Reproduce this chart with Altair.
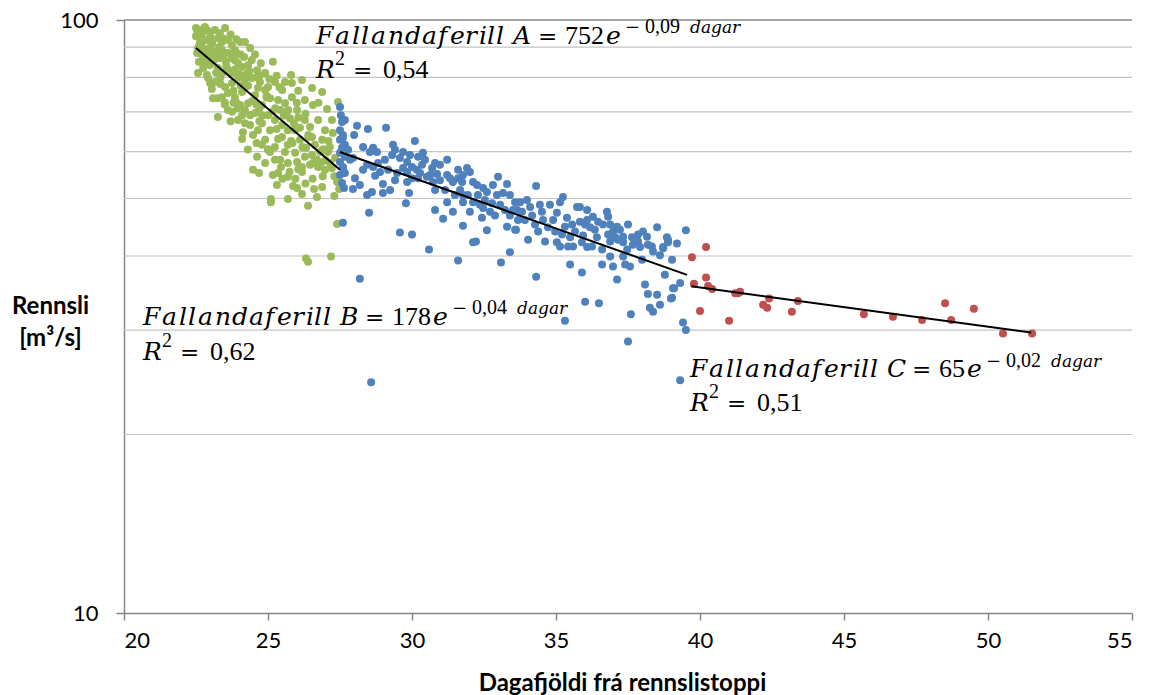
import math

import altair as alt
import pandas as pd

# ---------------------------------------------------------------------------
# Observations: days since flow peak vs. discharge (m3/s), one list per phase
# ---------------------------------------------------------------------------
green_days = [
    22.50, 22.64, 22.81, 22.99, 23.16, 23.33, 23.51, 23.26, 22.50, 22.64,
    22.85, 23.06, 23.40, 23.61, 23.75, 24.03, 24.20, 22.57, 22.81, 22.99,
    23.19, 23.40, 23.61, 23.85, 24.38, 22.54, 22.74, 22.92, 23.13, 23.33,
    23.54, 23.75, 23.96, 24.17, 24.31, 22.99, 23.26, 22.81, 23.47, 23.75,
    24.10, 24.44, 24.62, 24.90, 25.17, 22.57, 22.92, 23.16, 22.99, 23.51,
    23.75, 23.96, 24.20, 24.44, 24.72, 25.00, 25.24, 25.59, 25.83, 26.18,
    25.49, 26.53, 26.88, 23.09, 23.40, 23.61, 23.85, 24.10, 24.31, 24.55,
    24.79, 25.07, 25.35, 25.59, 25.83, 26.01, 26.28, 26.56, 27.43, 23.26,
    23.61, 23.96, 24.13, 24.38, 24.55, 24.48, 24.79, 25.00, 25.24, 25.07,
    25.49, 25.76, 25.94, 26.28, 26.53, 26.74, 26.98, 27.22, 27.15, 25.49,
    25.24, 25.69, 26.11, 26.32, 24.79, 24.62, 24.90, 25.07, 25.24, 25.59,
    25.69, 25.94, 26.18, 26.28, 26.53, 26.70, 26.74, 27.08, 27.15, 26.98,
    27.22, 27.33, 24.48, 24.69, 25.17, 25.35, 25.69, 26.01, 26.05, 26.18,
    26.56, 25.31, 25.87, 26.01, 26.18, 26.60, 26.88, 26.70, 27.40, 27.47,
    25.10, 25.10, 25.69, 26.39, 27.40, 26.32, 26.39, 27.19, 24.03, 24.20,
    24.65, 24.90, 24.38, 24.65, 24.90, 25.42, 25.69, 26.11, 26.46, 26.63,
    26.88, 26.81, 26.46, 25.42, 22.88, 23.26, 23.75, 24.10, 22.70, 23.00,
    23.45, 23.90, 24.55, 24.75, 25.30, 25.80, 26.05, 26.75, 27.05, 26.30,
    25.55, 24.80, 24.20, 23.70, 26.90, 27.30, 25.95, 25.45, 26.55, 27.10,
    22.62, 22.95, 23.20, 23.55, 23.85, 24.25, 24.60, 24.05, 23.35, 23.05,
    23.80, 24.45, 24.95, 25.15, 25.65, 26.05, 26.40, 26.95, 27.25, 25.85,
    24.30, 23.50, 22.75, 23.95, 24.70, 25.35, 26.20, 26.85, 25.00, 25.75,
    22.55, 22.90, 23.70, 22.70, 23.30, 23.90, 22.60, 23.00, 23.45, 23.85,
    24.05, 23.20, 23.60, 24.00, 24.35, 23.35, 23.80, 24.30, 24.70, 25.05,
    25.40, 23.50, 23.90, 24.60, 24.95, 25.25, 25.70, 26.00, 24.10, 24.70,
    25.30, 25.90, 26.40, 24.30, 25.00, 25.80, 26.20, 26.90, 25.50, 26.30,
    27.00, 27.30, 24.60,
]
green_flow = [
    96.9, 96.2, 97.3, 95.4, 96.2, 95.0, 96.9, 93.2, 93.9, 91.8,
    92.5, 91.4, 91.8, 92.5, 90.7, 91.8, 91.8, 89.7, 89.0, 90.0,
    88.3, 89.0, 88.0, 89.0, 89.7, 88.0, 86.6, 87.3, 85.6, 86.3,
    85.0, 86.3, 84.6, 86.6, 84.0, 84.0, 83.0, 84.6, 81.7, 81.4,
    83.3, 85.6, 82.3, 81.4, 85.0, 81.4, 79.8, 78.6, 78.3, 77.1,
    78.3, 79.8, 79.2, 79.8, 78.6, 77.1, 78.6, 78.6, 78.3, 79.2,
    76.2, 76.8, 75.6, 73.8, 74.1, 75.3, 74.1, 75.6, 72.4, 74.7,
    71.9, 73.8, 73.3, 72.4, 74.1, 70.5, 73.3, 71.9, 72.7, 68.6,
    70.5, 67.8, 64.7, 69.1, 69.7, 64.0, 67.0, 69.1, 67.8, 65.2,
    66.5, 68.3, 65.2, 67.8, 63.5, 67.8, 65.2, 67.8, 61.1, 63.5,
    61.1, 61.6, 62.8, 60.9, 61.6, 58.8, 57.4, 59.9, 58.1, 59.9,
    57.4, 59.7, 56.5, 58.8, 59.2, 58.1, 56.5, 59.9, 57.4, 55.9,
    56.3, 58.5, 55.9, 55.2, 54.8, 55.2, 54.4, 57.6, 56.0, 55.4,
    57.4, 52.7, 52.5, 52.1, 50.9, 51.9, 52.3, 50.3, 53.3, 51.9,
    49.9, 49.3, 49.9, 48.6, 45.3, 39.6, 39.1, 39.9, 71.9, 70.5,
    76.8, 76.2, 66.5, 65.2, 62.8, 70.5, 65.2, 65.8, 66.0, 61.6,
    62.8, 59.9, 57.0, 58.1, 80.8, 73.8, 70.0, 63.0, 94.5, 93.5,
    93.0, 88.0, 87.5, 84.5, 80.5, 80.8, 76.0, 72.5, 70.8, 69.5,
    69.0, 69.0, 67.0, 67.5, 54.5, 50.5, 54.0, 56.5, 54.0, 62.5,
    91.0, 88.5, 87.0, 83.5, 82.5, 81.0, 80.0, 77.5, 80.0, 76.5,
    72.5, 73.0, 74.5, 70.0, 70.0, 68.5, 64.0, 60.5, 64.5, 62.0,
    77.5, 72.0, 83.0, 71.0, 71.0, 63.0, 61.0, 57.5, 60.5, 55.5,
    95.5, 96.0, 94.5, 90.5, 90.0, 92.8, 85.0, 86.0, 87.0, 85.5,
    87.5, 81.5, 82.5, 81.0, 82.0, 78.0, 76.0, 77.5, 80.5, 79.5,
    77.0, 72.5, 72.5, 72.0, 74.0, 71.0, 70.5, 72.5, 69.0, 67.5,
    65.5, 67.0, 63.5, 60.5, 60.5, 62.5, 61.0, 60.5, 54.0, 53.0,
    58.0, 54.5, 62.0,
]

blue_days = [
    27.50, 27.53, 27.57, 27.50, 27.60, 27.50, 27.57, 27.50, 27.67, 27.50,
    27.60, 27.50, 27.57, 27.64, 27.60, 27.67, 28.09, 28.47, 29.10, 27.99,
    27.60, 27.67, 28.30, 28.65, 28.78, 28.54, 30.10, 29.34, 29.41, 29.69,
    29.93, 29.31, 29.58, 29.83, 30.21, 30.38, 30.35, 30.00, 29.69, 30.80,
    30.97, 31.22, 27.85, 27.60, 27.95, 28.44, 28.65, 28.89, 28.72, 29.17,
    29.48, 29.83, 30.17, 30.28, 27.67, 28.02, 27.95, 28.19, 28.44, 28.61,
    28.99, 28.99, 29.24, 29.83, 29.90, 29.79, 30.21, 30.52, 30.63, 30.87,
    30.73, 30.80, 31.22, 31.32, 31.42, 31.60, 31.74, 31.91, 32.01, 32.12,
    32.26, 32.47, 32.60, 32.81, 32.99, 33.30, 32.95, 33.16, 33.40, 33.58,
    33.65, 31.22, 31.42, 31.77, 31.77, 32.12, 32.36, 32.47, 32.71, 32.01,
    30.80, 31.08, 31.77, 32.43, 32.60, 33.30, 33.61, 28.51, 29.58, 30.00,
    30.59, 31.60, 32.12, 32.22, 33.09, 33.40, 28.19, 28.58, 34.31, 33.75,
    33.99, 34.10, 33.51, 33.68, 33.58, 34.03, 34.51, 34.79, 35.03, 35.24,
    35.14, 34.90, 34.55, 34.38, 34.62, 35.03, 35.14, 35.49, 35.42, 35.59,
    35.31, 35.56, 35.73, 35.83, 36.08, 35.83, 36.01, 36.18, 36.08, 36.28,
    36.77, 36.81, 36.63, 36.88, 37.12, 37.22, 36.98, 37.50, 36.81, 35.90,
    36.08, 36.25, 36.42, 36.60, 36.88, 37.15, 37.33, 37.33, 37.47, 37.33,
    37.67, 37.85, 38.02, 38.16, 37.85, 38.33, 38.51, 38.37, 38.89, 38.72,
    39.20, 39.51, 36.88, 36.60, 36.98, 37.40, 37.57, 37.99, 35.49, 35.90,
    34.31, 35.31, 36.01, 36.49, 37.12, 37.50, 38.09, 38.19, 38.51, 39.03,
    38.78, 39.06, 39.31, 39.03, 38.61, 38.26, 38.37, 39.41, 39.51, 37.60,
    38.85, 38.89, 38.72, 38.99, 39.10, 39.31, 30.97, 31.15, 31.49, 31.67,
    31.94, 32.29, 32.53, 32.78, 33.06, 33.23, 32.88, 33.40, 33.82, 33.92,
    34.17, 34.27, 34.44, 34.72, 34.97, 35.21, 35.38, 35.66, 35.94, 36.35,
    36.46, 37.05, 37.64, 37.92, 38.19, 38.61, 31.60, 31.77, 30.45, 30.70,
    30.00, 29.41, 29.06, 28.82, 28.30, 27.78,
]
blue_flow = [
    71.3, 69.1, 67.3, 65.2, 64.0, 62.8, 60.9, 59.7, 58.8, 57.6,
    56.3, 54.8, 53.1, 52.1, 45.5, 67.8, 66.3, 65.5, 65.8, 64.0,
    63.3, 61.6, 61.1, 60.9, 59.9, 59.9, 62.5, 61.6, 60.4, 59.9,
    59.2, 59.2, 58.5, 57.6, 58.8, 59.7, 57.0, 56.5, 56.3, 57.4,
    57.0, 58.1, 58.1, 56.5, 58.5, 57.0, 56.5, 55.4, 54.6, 55.9,
    55.2, 55.4, 55.9, 55.2, 55.2, 54.1, 51.9, 52.7, 50.7, 51.3,
    52.9, 51.1, 51.7, 53.3, 51.1, 49.1, 54.1, 54.4, 54.8, 55.0,
    53.3, 51.7, 54.8, 54.1, 53.3, 54.1, 53.3, 56.3, 55.4, 53.3,
    52.7, 52.1, 51.3, 52.7, 54.4, 52.9, 50.7, 51.1, 50.7, 49.3,
    47.8, 49.3, 47.5, 49.3, 50.7, 49.3, 48.8, 48.2, 47.5, 47.5,
    47.8, 46.2, 45.0, 46.4, 44.2, 44.8, 44.3, 47.3, 43.8, 43.5,
    41.0, 39.3, 42.2, 42.3, 39.0, 40.6, 36.6, 24.5, 52.5, 49.3,
    49.7, 48.4, 47.8, 46.0, 44.3, 42.6, 47.5, 48.8, 47.3, 50.3,
    49.3, 46.0, 46.0, 44.0, 42.3, 42.2, 41.5, 43.0, 41.5, 41.5,
    44.8, 45.2, 48.4, 48.4, 47.8, 45.7, 45.2, 44.7, 46.0, 46.6,
    47.5, 46.6, 45.2, 45.2, 44.8, 44.3, 44.0, 45.2, 43.5, 42.2,
    41.4, 41.5, 43.0, 41.0, 42.3, 42.6, 43.1, 42.2, 41.0, 39.9,
    41.8, 43.5, 44.0, 43.1, 42.3, 41.5, 44.7, 40.7, 42.6, 41.2,
    42.0, 44.2, 39.9, 38.7, 38.4, 38.7, 38.4, 39.4, 38.7, 37.5,
    36.9, 31.1, 33.5, 33.3, 36.5, 28.7, 35.8, 34.5, 34.4, 39.4,
    37.2, 35.3, 36.0, 34.0, 33.1, 32.7, 32.2, 30.9, 30.0, 31.9,
    43.0, 42.2, 41.4, 33.9, 35.3, 24.7, 53.7, 51.7, 50.7, 51.7,
    50.7, 50.7, 49.7, 49.1, 48.8, 47.8, 46.8, 46.8, 47.5, 46.0,
    46.8, 45.2, 48.8, 44.7, 44.0, 43.5, 46.4, 44.0, 43.3, 44.3,
    45.7, 43.0, 43.0, 41.4, 41.8, 40.1, 55.9, 54.8, 58.1, 56.3,
    54.1, 53.7, 58.1, 57.4, 55.9, 60.4,
]

red_days = [
    39.72, 40.21, 39.79, 40.21, 40.28, 40.42, 40.00, 41.01, 41.22, 41.39,
    41.32, 42.19, 42.33, 42.40, 43.19, 43.40, 45.69, 46.70, 47.71, 48.51,
    48.72, 49.51, 50.52, 51.53,
]
red_flow = [
    39.8, 41.4, 35.9, 36.8, 35.6, 35.2, 32.3, 31.1, 34.6, 34.8,
    34.6, 33.1, 32.7, 33.9, 32.2, 33.6, 31.9, 31.6, 31.2, 33.3,
    31.2, 32.6, 29.6, 29.6,
]

# Exponential recession fits, Q = a * exp(-b * days), one per phase
fit_names = ["A", "B", "C"]
fit_a = [752, 178, 65]
fit_b = [0.0945, 0.0396, 0.0152]
fit_start = [22.5, 27.5, 39.7]
fit_end = [27.5, 39.55, 51.5]
fit_r2 = ["0,54", "0,62", "0,51"]

x_ticks = [20, 25, 30, 35, 40, 45, 50, 55]
y_ticks = [10, 100]
y_grid = [20, 30, 40, 50, 60, 70, 80, 90]

series_colors = ["#9BBB59", "#4F81BD", "#C0504D"]

# ---------------------------------------------------------------------------
W, H = 1008, 593
LEFT, TOP = 124, 20
AXIS_GREY = "#868686"
GRID_GREY = "#C4C4C4"

points = pd.concat(
    [
        pd.DataFrame({"days": d, "flow": f, "phase": p})
        for d, f, p in [
            (green_days, green_flow, "A"),
            (blue_days, blue_flow, "B"),
            (red_days, red_flow, "C"),
        ]
    ],
    ignore_index=True,
)

fit_rows = []
for name, a, b, x0, x1 in zip(fit_names, fit_a, fit_b, fit_start, fit_end):
    for x in (x0, x1):
        fit_rows.append({"fit": name, "days": x, "flow": a * math.exp(-b * x)})
fits = pd.DataFrame(fit_rows)

x_scale = alt.Scale(domain=[20, 55], nice=False, zero=False)
y_scale = alt.Scale(type="log", domain=[10, 100], nice=False)

x_axis = alt.Axis(
    values=x_ticks,
    grid=False,
    domainColor=AXIS_GREY,
    domainWidth=1.5,
    tickColor=AXIS_GREY,
    tickWidth=1.5,
    tickSize=7,
    labelPadding=10,
    labelFont="Lato",
    labelFontSize=22,
    labelColor="black",
    title="Dagafjöldi frá rennslistoppi",
    titleFont="Lato",
    titleFontSize=24,
    titleFontWeight="bold",
    titleColor="black",
    titleX=498,
    titleY=77,
    titleAlign="center",
    titleBaseline="alphabetic",
)
y_axis = alt.Axis(
    values=y_ticks,
    format="d",
    grid=False,
    domainColor=AXIS_GREY,
    domainWidth=1.5,
    tickColor=AXIS_GREY,
    tickWidth=1.5,
    tickSize=8,
    labelPadding=18,
    labelFont="Lato",
    labelFontSize=22,
    labelColor="black",
    title=["Rennsli", "[m³/s]"],
    titleFont="Lato",
    titleFontSize=24,
    titleFontWeight="bold",
    titleColor="black",
    titleAngle=0,
    titleX=-74,
    titleY=293,
    titleAlign="center",
    titleBaseline="alphabetic",
    titleLineHeight=32,
)

grid = (
    alt.Chart(pd.DataFrame({"v": y_grid}))
    .mark_rule(color=GRID_GREY, strokeWidth=1.2)
    .encode(y=alt.Y("v:Q", scale=y_scale, axis=y_axis))
)
top_line = (
    alt.Chart(pd.DataFrame({"v": [100]}))
    .mark_rule(color=AXIS_GREY, strokeWidth=1.5)
    .encode(y=alt.Y("v:Q", scale=y_scale))
)

scatter = (
    alt.Chart(points)
    .mark_circle(size=64, opacity=1)
    .encode(
        x=alt.X("days:Q", scale=x_scale, axis=x_axis),
        y=alt.Y("flow:Q", scale=y_scale),
        color=alt.Color(
            "phase:N",
            scale=alt.Scale(domain=fit_names, range=series_colors),
            legend=None,
        ),
    )
)

fit_lines = (
    alt.Chart(fits)
    .mark_line(color="black", strokeWidth=2)
    .encode(
        x=alt.X("days:Q", scale=x_scale),
        y=alt.Y("flow:Q", scale=y_scale),
        detail="fit:N",
    )
)

# ---------------------------------------------------------------------------
# Equation labels, typeset in math style: italic symbols set letter by letter,
# upright numbers and operators.
# per label: lead x, main baseline, exponent baseline, R² baseline
label_layout = [
    (316, 44, 33, 78),
    (143, 325, 314, 360),
    (690, 377, 367, 411),
]
WORD = "Fallandaferill"
WORD_ADVANCE = [19, 17, 9, 10, 17, 17, 17, 16, 12, 15, 14, 8, 9, 9]
DIGIT_W = 13

STYLES = {
    "it": dict(font="DejaVu Serif", fontSize=25, fontStyle="italic"),
    "up": dict(font="Liberation Serif", fontSize=26),
    "op": dict(font="DejaVu Serif", fontSize=23),
    "minus": dict(font="DejaVu Serif", fontSize=18),
    "it_sup": dict(font="DejaVu Serif", fontSize=17, fontStyle="italic"),
    "up_sup": dict(font="Liberation Serif", fontSize=20),
}

pieces = []
for name, a, b, r2, lay in zip(fit_names, fit_a, fit_b, fit_r2, label_layout):
    x0, base, sbase, rbase = lay
    coef = str(a)
    rate = f"{b:.2f}".replace(".", ",")
    cx = x0
    for ch, adv in zip(WORD, WORD_ADVANCE):
        pieces.append((ch, cx, base, "it"))
        cx += adv
    x_sym = x0 + 197
    x_eq = x_sym + 25
    x_coef = x_eq + 27
    x_e = x_coef + DIGIT_W * len(coef) + 2
    x_minus = x_e + 19
    pieces += [
        (name, x_sym, base, "it"),
        ("=", x_eq, base, "op"),
        (coef, x_coef, base, "up"),
        ("e", x_e, base, "it"),
        ("−", x_minus, sbase, "minus"),
        (rate, x_minus + 20, sbase, "up_sup"),
        ("dagar", x_minus + 65, sbase, "it_sup"),
        ("R", x0, rbase, "it"),
        ("2", x0 + 19, rbase - 13, "up_sup"),
        ("=", x0 + 37, rbase, "op"),
        (r2, x0 + 67, rbase, "up"),
    ]

labels = []
for text, px, py, kind in pieces:
    labels.append(
        alt.Chart(pd.DataFrame({"t": [text]}))
        .mark_text(align="left", baseline="alphabetic", color="black", **STYLES[kind])
        .encode(text="t:N", x=alt.value(px - LEFT), y=alt.value(py - TOP))
    )

chart = (
    alt.layer(grid, top_line, scatter, fit_lines, *labels)
    .properties(
        width=W,
        height=H,
        autosize=alt.AutoSizeParams(type="none"),
        padding={"left": LEFT, "top": TOP, "right": 17, "bottom": 82},
        background="white",
    )
    .configure_view(stroke=None)
)

chart.save("out.html", embed_options={"renderer": "svg", "actions": False})
